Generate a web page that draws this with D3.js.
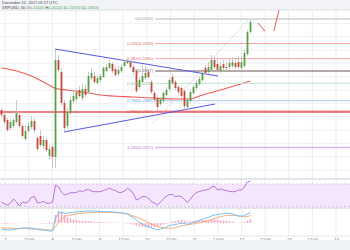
<!DOCTYPE html>
<html>
<head>
<meta charset="utf-8">
<script src="https://cdn.jsdelivr.net/npm/d3@7"></script>
<style>
body { margin: 0; background: #fff; }
svg { display: block; font-family: "Liberation Sans", Arial, sans-serif; }
</style>
</head>
<body>
<svg id="chart" width="350" height="250"></svg>
<script>
// hourly-ish candles, [open, high, low, close]
var candles = [
  [0.2340,0.2346,0.2319,0.2325],[0.2325,0.2331,0.2298,0.2304],[0.2310,0.2316,0.2274,0.2280],[0.2286,0.2313,0.2280,0.2304],
  [0.2292,0.2316,0.2286,0.2310],[0.2304,0.2370,0.2298,0.2331],[0.2325,0.2334,0.2286,0.2292],[0.2292,0.2298,0.2256,0.2262],
  [0.2253,0.2295,0.2247,0.2277],[0.2277,0.2304,0.2271,0.2292],[0.2289,0.2322,0.2283,0.2307],[0.2307,0.2316,0.2271,0.2280],
  [0.2256,0.2262,0.2217,0.2223],[0.2262,0.2280,0.2229,0.2235],[0.2232,0.2262,0.2223,0.2250],[0.2250,0.2256,0.2214,0.2220],
  [0.2202,0.2232,0.2193,0.2223],[0.2229,0.2235,0.2166,0.2199],[0.2199,0.2523,0.2166,0.2490],[0.2490,0.2505,0.2454,0.2460],
  [0.2454,0.2466,0.2352,0.2361],[0.2361,0.2370,0.2274,0.2286],[0.2292,0.2346,0.2283,0.2334],[0.2331,0.2379,0.2325,0.2370],
  [0.2367,0.2400,0.2361,0.2382],[0.2373,0.2406,0.2367,0.2394],[0.2400,0.2412,0.2376,0.2382],[0.2376,0.2418,0.2367,0.2403],
  [0.2403,0.2415,0.2379,0.2385],[0.2394,0.2454,0.2388,0.2442],[0.2436,0.2466,0.2430,0.2451],[0.2442,0.2454,0.2418,0.2424],
  [0.2421,0.2445,0.2415,0.2436],[0.2430,0.2448,0.2424,0.2442],[0.2439,0.2472,0.2436,0.2466],[0.2457,0.2478,0.2454,0.2469],
  [0.2466,0.2490,0.2463,0.2481],[0.2478,0.2484,0.2451,0.2457],[0.2463,0.2472,0.2439,0.2445],[0.2448,0.2472,0.2442,0.2460],
  [0.2457,0.2478,0.2451,0.2469],[0.2472,0.2490,0.2469,0.2484],[0.2481,0.2493,0.2478,0.2487],[0.2484,0.2490,0.2463,0.2469],
  [0.2469,0.2475,0.2445,0.2454],[0.2457,0.2463,0.2391,0.2397],[0.2409,0.2439,0.2403,0.2430],[0.2424,0.2475,0.2418,0.2442],
  [0.2436,0.2472,0.2430,0.2451],[0.2454,0.2460,0.2433,0.2439],[0.2424,0.2430,0.2388,0.2394],[0.2391,0.2397,0.2364,0.2370],
  [0.2376,0.2385,0.2340,0.2349],[0.2358,0.2379,0.2352,0.2373],[0.2367,0.2397,0.2361,0.2391],[0.2385,0.2409,0.2382,0.2400],
  [0.2403,0.2436,0.2397,0.2430],[0.2439,0.2448,0.2415,0.2421],[0.2424,0.2430,0.2400,0.2406],[0.2409,0.2415,0.2388,0.2394],
  [0.2406,0.2412,0.2376,0.2382],[0.2397,0.2403,0.2340,0.2352],[0.2349,0.2376,0.2340,0.2370],[0.2367,0.2400,0.2361,0.2394],
  [0.2391,0.2415,0.2385,0.2409],[0.2406,0.2430,0.2400,0.2421],[0.2418,0.2442,0.2412,0.2433],[0.2430,0.2460,0.2424,0.2451],
  [0.2466,0.2475,0.2445,0.2451],[0.2454,0.2484,0.2448,0.2469],[0.2460,0.2505,0.2454,0.2490],[0.2490,0.2499,0.2463,0.2469],
  [0.2478,0.2490,0.2454,0.2460],[0.2457,0.2484,0.2451,0.2472],[0.2478,0.2490,0.2460,0.2466],[0.2469,0.2484,0.2460,0.2466],
  [0.2469,0.2496,0.2463,0.2481],[0.2472,0.2499,0.2466,0.2484],[0.2481,0.2496,0.2463,0.2469],[0.2484,0.2502,0.2463,0.2469],
  [0.2466,0.2502,0.2460,0.2484],[0.2472,0.2520,0.2466,0.2511],[0.2508,0.2580,0.2502,0.2574],[0.2574,0.2610,0.2568,0.2604]
];

// moving average, read at some candle indexes
var maIdx  = [0, 5, 10, 14, 17, 18, 22, 29, 33, 44, 51, 58, 63, 66, 73, 83];
var maVals = [0.2466,0.2457,0.2442,0.2424,0.2409,0.24045,0.2400,0.2391,0.2385,0.2379,0.2376,0.2373,0.2373,0.2382,0.2400,0.2427];

// fibonacci retracement
var fibRatios = [0, 0.236, 0.382, 0.5, 0.618, 0.786, 0.886, 1.236];
var fibHigh = 0.2613, fibLow = 0.2301;
var fibStart = 51.2;
var supportPrice = 0.2334;

// drawn lines: [[index, price], [index, price]]
var trendUpper = [[17.8, 0.2523], [72.2, 0.2442]];
var trendLower = [[20.8, 0.2274], [71.2, 0.2358]];
var fibDiag = [[50.5, 0.2301], [82.5, 0.2613]];
var redMarks = [[[85.5, 0.2601], [87.8, 0.2577]], [[90.8, 0.2577], [92.5, 0.2640]]];

var rsi = [38.0,34.4,32.7,36.2,43.3,38.0,30.9,38.0,36.2,38.9,46.9,47.4,36.2,37.1,38.9,36.2,35.7,37.5,68.2,64.7,
  55.8,50.4,52.2,54.5,54.5,54.9,58.1,56.3,59.3,60.6,57.6,56.3,56.3,56.3,58.4,60.2,62.4,60.2,58.1,55.2,
  54.9,57.6,62.4,59.3,52.2,41.6,44.2,47.8,47.8,44.6,38.5,36.2,32.7,38.0,43.3,48.7,51.3,51.3,47.4,48.7,
  47.4,42.4,37.5,43.3,50.4,54.9,56.7,58.4,59.3,60.2,64.7,65.9,59.3,61.1,59.3,58.4,56.7,56.3,56.7,59.3,
  59.3,64.7,73.6,75.3];

// MACD in pips
var macd = [-6,-6.5,-7,-7,-6.5,-6,-5.5,-5,-5,-5,-5,-5.5,-6.5,-7,-7,-7.5,-8,-8,4.7,9.7,
  11,9.7,10,10.3,10.7,11,11.3,11.5,11.7,12,12,11.8,11.7,11.5,11.3,11.3,11.3,11,11,10.5,
  10,9.5,9,7,5.5,3,0.5,-1,-2.5,-4,-5,-6,-6.5,-6,-5.3,-4,-2.5,-2,-1.5,-0.7,
  -0.3,-0.5,-1.3,-0.5,0.7,1.5,2.5,3.8,4.7,5.7,7,8,8.5,9,9.4,9.7,9.7,9,8,7,
  7,7.3,9,10.7];
var signal = [-5,-5,-5,-5.2,-5.4,-5.5,-5.5,-5.5,-5.5,-5.7,-6,-6,-6,-6.2,-6.5,-6.7,-7,-7.2,-3.7,1,
  4,6.5,7.5,8,8.5,9,9.5,9.8,10,10.3,10.5,10.7,10.7,10.7,10.7,10.6,10.5,10.4,10.3,10.2,
  10,9.7,9,8,7,6,4.7,3.5,2,0.5,-1,-2.5,-3.5,-4.3,-4.8,-5.3,-5.3,-5,-4.3,-3.7,
  -3,-2.3,-1.7,-1.3,-0.8,-0.2,0.3,1,1.7,2.5,3.5,4.5,5.3,6.3,7,7.5,7.7,7.7,7.5,7,
  6.5,6.3,6.5,7.5];
var hist = [-0.5,-0.7,-0.8,-0.6,-0.4,-0.2,0.3,0.5,0.4,0.3,0.4,0.2,-0.4,-0.6,-0.4,-0.6,-0.8,-0.7,8,12,
  11,8,6,4.5,3.5,3,2.5,2.2,2,1.8,1.5,1.2,1,0.9,0.7,0.7,0.6,0.5,0.4,0.3,
  0.2,-0.2,-0.5,-1.2,-1.8,-2.5,-3.5,-4,-4.5,-4.5,-4.3,-4,-3.5,-2.5,-1.5,-0.8,0.5,1.5,2.2,2.8,
  3,2.5,1.5,1.5,2,2.5,2.8,3,3,3.2,3.5,3.5,3.2,2.8,2.4,2.2,2,1.3,0.5,0.2,
  0.4,1,2.5,3.8];

var tickLabels = ["7","12:00","8","12:00","9","12:00","10","12:00","11","12:00","12","12:00","13","12:00","14"];

var W = 350, H = 250;
var svg = d3.select("#chart");

// panels
var main = {top: 10, bottom: 179}, rsiP = {top: 179, bottom: 208}, macdP = {top: 208, bottom: 236};

var x = d3.scaleLinear().domain([0, candles.length - 1]).range([1.5, 250.5]);
var y = d3.scaleLinear().domain([0.2136, 0.2640]).range([178, 10]);
var yr = d3.scaleLinear().domain([30, 70]).range([206.5, 184]);
var ym = d3.scaleLinear().domain([-15, 15]).range([238, 208]);
var xt = d3.scaleLinear().domain([0, tickLabels.length - 1]).range([5, 336]);

var green = "#5a9f48", red = "#c44a3c";

svg.append("rect").attr("width", W).attr("height", H).attr("fill", "#fff");

// clip paths
var defs = svg.append("defs");
[["cMain", main], ["cRsi", rsiP], ["cMacd", macdP]].forEach(function(c) {
  defs.append("clipPath").attr("id", c[0]).append("rect")
    .attr("x", 0).attr("y", c[1].top).attr("width", W).attr("height", c[1].bottom - c[1].top);
});

// vertical grid
svg.append("g").selectAll("line").data(tickLabels).enter().append("line")
  .attr("x1", function(d, i) { return xt(i); }).attr("x2", function(d, i) { return xt(i); })
  .attr("y1", 10).attr("y2", 236)
  .attr("stroke", "#eceef2").attr("stroke-width", 1);

// horizontal grid main
svg.append("g").selectAll("line").data(d3.range(0.216, 0.2641, 0.004)).enter().append("line")
  .attr("x1", 0).attr("x2", W)
  .attr("y1", function(d) { return y(d); }).attr("y2", function(d) { return y(d); })
  .attr("stroke", "#eef0f3").attr("stroke-width", 1);

var gMain = svg.append("g").attr("clip-path", "url(#cMain)");

// support line (full width)
gMain.append("line")
  .attr("x1", 0).attr("x2", W).attr("y1", y(supportPrice)).attr("y2", y(supportPrice))
  .attr("stroke", "#ec6b6b").attr("stroke-width", 2).attr("opacity", 0.85);

// moving average
var maLine = d3.line()
  .x(function(d, i) { return x(maIdx[i]); })
  .y(function(d) { return y(d); })
  .curve(d3.curveMonotoneX);
gMain.append("path").datum(maVals)
  .attr("d", maLine).attr("fill", "none")
  .attr("stroke", "#ee5a55").attr("stroke-width", 1.1);

// fib levels
var fibColors = ["#b8b8b8", "#f3a3a3", "#f3a3a3", "#9c8c8c", "#bfe3c6", "#aacdef", "#ec6b6b", "#d9b6ef"];
var fibText = ["#999", "#e07070", "#e07070", "#7a6a6a", "#7cc08a", "#6aa3dc", "#e05555", "#b07ad0"];
fibRatios.forEach(function(r, i) {
  var p = fibHigh - r * (fibHigh - fibLow);
  gMain.append("line")
    .attr("x1", x(fibStart)).attr("x2", W)
    .attr("y1", y(p)).attr("y2", y(p))
    .attr("stroke", fibColors[i]).attr("stroke-width", i === 3 || i === 7 ? 1.4 : 1);
});

// trend lines
var seg = d3.line().x(function(d) { return x(d[0]); }).y(function(d) { return y(d[1]); });
[trendUpper, trendLower].forEach(function(t) {
  gMain.append("path").datum(t).attr("d", seg)
    .attr("stroke", "#5b5bea").attr("stroke-width", 1.1).attr("fill", "none");
});

// candles
var cw = 1.8;
var cg = gMain.append("g");
cg.selectAll(".wick").data(candles).enter().append("line")
  .attr("class", "wick")
  .attr("x1", function(d, i) { return x(i); }).attr("x2", function(d, i) { return x(i); })
  .attr("y1", function(d) { return y(d[1]); }).attr("y2", function(d) { return y(d[2]); })
  .attr("stroke", "#bdbdbd").attr("stroke-width", 0.8);
cg.selectAll(".body").data(candles).enter().append("rect")
  .attr("class", "body")
  .attr("x", function(d, i) { return x(i) - cw / 2; })
  .attr("width", cw)
  .attr("y", function(d) { return y(Math.max(d[0], d[3])); })
  .attr("height", function(d) { return Math.max(1, Math.abs(y(d[0]) - y(d[3]))); })
  .attr("fill", function(d) { return d[3] >= d[0] ? green : red; });

// fib diagonal
gMain.append("path").datum(fibDiag).attr("d", seg)
  .attr("stroke", "#bbb").attr("stroke-width", 0.8).attr("stroke-dasharray", "1.5,1.5").attr("fill", "none");

// red drawn marks
redMarks.forEach(function(m) {
  gMain.append("path").datum(m).attr("d", seg)
    .attr("stroke", "#ef5350").attr("stroke-width", 1).attr("fill", "none");
});

// fib labels
fibRatios.forEach(function(r, i) {
  var p = fibHigh - r * (fibHigh - fibLow);
  gMain.append("text")
    .attr("x", x(fibStart) - 2).attr("y", y(p)).attr("dy", "0.35em")
    .attr("text-anchor", "end").attr("font-size", 4.2)
    .attr("fill", fibText[i])
    .text(r + "(" + p.toFixed(4) + ")");
});

// RSI panel
var gR = svg.append("g").attr("clip-path", "url(#cRsi)");
gR.append("rect").attr("x", 0).attr("width", W)
  .attr("y", yr(70)).attr("height", yr(30) - yr(70)).attr("fill", "#f4e6fc");
[70, 30].forEach(function(v) {
  gR.append("line").attr("x1", 0).attr("x2", W).attr("y1", yr(v)).attr("y2", yr(v))
    .attr("stroke", "#d7b9ea").attr("stroke-width", 0.8).attr("stroke-dasharray", "2,2");
});
gR.append("path").datum(rsi)
  .attr("d", d3.line().x(function(d, i) { return x(i); }).y(function(d) { return yr(d); }))
  .attr("fill", "none").attr("stroke", "#b872d8").attr("stroke-width", 1);

// MACD panel
var gM = svg.append("g").attr("clip-path", "url(#cMacd)");
gM.selectAll("rect").data(hist).enter().append("rect")
  .attr("x", function(d, i) { return x(i) - 0.8; }).attr("width", 1.6)
  .attr("y", function(d) { return ym(Math.max(0, d)); })
  .attr("height", function(d) { return Math.abs(ym(d) - ym(0)); })
  .attr("fill", "#f6a9c6");
var ml = d3.line().x(function(d, i) { return x(i); }).y(function(d) { return ym(d); });
gM.append("path").datum(signal).attr("d", ml).attr("fill", "none").attr("stroke", "#f5ae72").attr("stroke-width", 1);
gM.append("path").datum(macd).attr("d", ml).attr("fill", "none").attr("stroke", "#74bdf3").attr("stroke-width", 1);

// panel separators
[rsiP.top, macdP.top].forEach(function(v) {
  svg.append("line").attr("x1", 0).attr("x2", W).attr("y1", v).attr("y2", v)
    .attr("stroke", "#c9ccd1").attr("stroke-width", 1.2);
});
svg.append("line").attr("x1", 0).attr("x2", W).attr("y1", 236).attr("y2", 236)
  .attr("stroke", "#dcdfe3").attr("stroke-width", 0.8);

// time axis
var ax = svg.append("g").attr("transform", "translate(0,236)")
  .call(d3.axisBottom(xt).tickValues(d3.range(tickLabels.length))
    .tickFormat(function(i) { return tickLabels[i]; }).tickSize(0).tickPadding(2));
ax.select(".domain").remove();
ax.selectAll("text").attr("font-size", 4.2).attr("fill", "#666").attr("font-family", "Liberation Sans, Arial, sans-serif");

// bottom bar
svg.append("rect").attr("x", 0).attr("y", 240).attr("width", W).attr("height", 10).attr("fill", "#eef1f5");

// header
svg.append("rect").attr("x", 0).attr("y", 0).attr("width", W).attr("height", 10).attr("fill", "#f1f3f6");
svg.append("line").attr("x1", 0).attr("x2", W).attr("y1", 10).attr("y2", 10).attr("stroke", "#dde0e4").attr("stroke-width", 0.8);
svg.append("text").attr("x", 2).attr("y", 4.3).attr("font-size", 4).attr("fill", "#444")
  .text("December 12, 2017 05:17 UTC");
var hdr = svg.append("text").attr("x", 2).attr("y", 9).attr("font-size", 4).attr("fill", "#444");
var ohlc = [["XRPUSD, 60 O", "0.25440"], [" H", "0.26120"], [" L", "0.25570"], [" C", "0.26000"]];
ohlc.forEach(function(p) {
  hdr.append("tspan").attr("fill", "#444").text(p[0]);
  hdr.append("tspan").attr("fill", "#4caf50").text(p[1]);
});
</script>
</body>
</html>
